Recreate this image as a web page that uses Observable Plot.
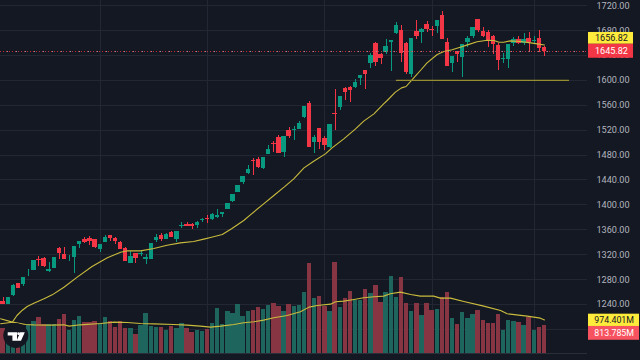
<!DOCTYPE html>
<html>
<head>
<meta charset="utf-8">
<script src="https://cdn.jsdelivr.net/npm/d3@7"></script>
<script src="https://cdn.jsdelivr.net/npm/@observablehq/plot@0.6"></script>
<style>html,body{margin:0;padding:0;background:#141823;overflow:hidden}svg{display:block}</style>
</head>
<body>
<div id="chart"></div>
<script>
const highs = [1251.2,1251.2,1271.6,1274.3,1283.4,1295.7,1310.7,1317.1,1315,1306.9,1315.5,1331,1331,1319.2,1333.2,1341.2,1347.1,1348.7,1344.4,1336.4,1351.4,1351.4,1347.1,1341.2,1331,1324.6,1321.9,1326.7,1320.8,1338,1352.4,1353.5,1353.5,1356.7,1357.3,1371.7,1371.7,1370.6,1373.9,1378.7,1383,1385.6,1392.6,1387.8,1402.2,1416.2,1431.2,1445.6,1463.3,1474,1475.6,1476.1,1494.9,1501.3,1512,1509.9,1523.8,1526,1534.5,1558,1566.1,1512,1522.7,1509.9,1529.2,1584.9,1574.1,1588.6,1590.2,1601,1607.9,1616.4,1643.7,1661.4,1642.7,1665.2,1664.1,1693,1688.7,1661.4,1667.3,1696.2,1683.4,1694.1,1686.6,1696.2,1710.1,1667.3,1637.9,1646.4,1657.1,1670.5,1685,1697.3,1684.4,1680.1,1672.1,1658.7,1643.7,1657.1,1668.9,1671,1675.3,1676.4,1670.5,1680.1,1654.4];
const lows = [1240.5,1240,1253.4,1266.2,1268.9,1285,1294.6,1301,1299.4,1291.9,1298.4,1312.8,1312.3,1309.1,1289.8,1330,1338,1335.3,1329.4,1323,1339.6,1341.7,1336.9,1327.8,1308.5,1305.8,1306.4,1316.6,1304.2,1312.8,1339.6,1341.2,1343.9,1347.1,1339.6,1362.1,1364.8,1361,1362.1,1372.2,1369.6,1374.9,1378.7,1379.7,1392.6,1403.8,1419.9,1432.8,1448.3,1447.2,1459,1456.3,1481,1484.2,1482.5,1476.7,1506.6,1503.4,1520.6,1538.3,1491.7,1482,1488.4,1487.4,1490.6,1519.5,1551.6,1567.7,1565,1586.5,1591.8,1585.4,1619.6,1622.3,1625.5,1641.6,1614.3,1673.2,1628.7,1608.9,1604.1,1665.2,1659.3,1676.4,1670.5,1675.9,1665.2,1622.9,1613.2,1628.7,1604.6,1653.4,1666.8,1677.5,1669.4,1653.4,1641.6,1616.4,1627.1,1619.1,1653.9,1658.2,1655.5,1645.9,1658.7,1645.3,1638.9];
const opens = [1244.8,1240,1254.4,1274.3,1272.1,1292.5,1294.6,1312.3,1313.9,1293,1298.4,1330,1320.3,1313.4,1315.5,1336.9,1343.9,1346,1343.9,1328.9,1340.1,1350.3,1346.5,1339,1330,1306.4,1321.4,1320.8,1311.7,1312.8,1342.8,1350.8,1344.4,1355.7,1343.9,1365.3,1368.5,1369,1367.4,1374.9,1378.7,1376.5,1379.7,1384.6,1392.6,1406,1419.9,1436,1449.9,1471.8,1472.9,1458.4,1481.5,1498.1,1508.3,1483.6,1519.5,1520,1521.1,1540.4,1562.9,1500.2,1522.2,1506.7,1491.7,1546.8,1556.5,1587.5,1589.1,1588.1,1603,1615.4,1627.1,1658.7,1641.6,1644.8,1660.9,1674.8,1680.1,1659.8,1610,1678,1676.9,1689.8,1681.8,1686,1704.3,1660.9,1627.1,1645.9,1637.3,1660.9,1670.5,1697.3,1678.5,1676.4,1670.5,1656,1634.1,1633.6,1659.8,1665.7,1658.7,1667.3,1663,1667.3,1652.8];
const closes = [1240.5,1251.2,1270.5,1266.2,1283.4,1293.5,1310.7,1310.7,1300.5,1296.7,1315.5,1321.9,1312.8,1314.4,1333.2,1340.7,1339.6,1340.7,1331,1336.4,1347.6,1345.5,1341.2,1328.9,1309.1,1317.1,1313.9,1321.9,1315.5,1338,1347.6,1344.9,1352.4,1348.2,1357.3,1366.4,1365.3,1365.8,1372.3,1376,1377,1385.1,1383,1387.8,1402.2,1416.2,1431.2,1445.6,1457.4,1470.2,1459.5,1476.1,1489,1496.5,1483.1,1509.9,1510.4,1521.1,1530.8,1558,1492.2,1508.8,1500.8,1494.9,1528.6,1545.2,1574.1,1580.6,1583.8,1596.6,1607.9,1610,1640,1628.7,1635.2,1653.9,1664.1,1687.6,1643.7,1612.7,1667.3,1670.5,1681.2,1681.8,1680.1,1696.2,1666.2,1622.9,1637.9,1641.6,1657.1,1667.3,1685,1680.1,1670.5,1664.1,1657.7,1632.5,1635.2,1657.1,1665.7,1658.7,1665.7,1660.9,1664.1,1651.8,1645.82];
const volumes = [716,619,600,667,764,832,928,1035,832,832,841,986,1122,658,957,1064,890,890,919,861,1035,938,764,919,716,725,551,822,1151,793,754,754,658,783,725,861,735,619,667,638,706,861,1305,832,1218,1160,1412,1073,1218,1247,1325,1276,1392,1441,1363,1218,1412,1363,1392,1770,2611,1596,1644,1363,1218,2650,1334,1596,1799,1547,1547,1847,1731,1973,1480,1770,2243,1625,2195,1441,1218,1451,1102,1441,1238,1276,1634,1760,1006,832,1189,1006,1131,1238,957,861,870,1122,677,948,928,899,812,1054,677,745,813.785];

const priceMaAt = [-0.5,1.8,2.7,3.7,4.7,6,8,9.6,11.9,14.5,17.4,20.4,23,24.3,26.9,29.5,32.1,34.7,37.3,39.3,40.6,42.9,44.8,47.1,48.4,51,53,55,56.9,58.9,60.8,63.1,64.4,66.7,69,70.6,72.6,74.5,75.2,76.8,78,78.9,80.4,81.7,83,85,86.3,87.9,89.5,90.9,92.8,94.8,96.1,97.1,98,99.3,101.3,103.3,104.6,106];
const priceMa = [1209,1211.6,1222.3,1230.4,1236.8,1242.1,1249.1,1255.5,1267.8,1283.9,1301,1315,1324,1326.2,1326.2,1330,1335.3,1339,1341.2,1345,1347.6,1352.4,1362.1,1374.9,1384,1401.7,1415.1,1428.5,1441.9,1459.5,1470.2,1482,1491.7,1506.1,1522.2,1534.5,1546.3,1562.3,1567.7,1581.1,1588,1590.2,1604.1,1615.9,1628.2,1641.6,1646.4,1649.1,1653.4,1657.1,1662,1664.6,1664.1,1661.4,1661.4,1663.5,1662.5,1660.3,1658.7,1656.82];
const volumeMaAt = [-0.5,1.8,4.4,6,9.3,11.9,12.9,15.1,19.1,21.7,24.3,26.9,29.5,33.4,36,38.6,40.6,42.6,45.2,47.1,49.1,51,53,55.6,58.2,59.9,61.5,64.1,65.1,66.7,68.7,70.6,72.6,74.5,75.8,77.8,79.8,81.7,84.3,85.6,87.6,90.2,94.1,97.4,98.7,102.6,105.2,106];
const volumeMa = [1005,909,841,831,822,831,793,831,870,909,899,870,860,841,822,793,764,793,841,889,918,967,1034,1102,1208,1344,1392,1431,1498,1518,1566,1614,1643,1663,1730,1779,1711,1663,1663,1605,1605,1508,1373,1247,1150,1083,1025,974.401];

const gridPrices = [1200,1240,1280,1320,1360,1400,1440,1480,1520,1560,1600,1640,1680,1720];
const labelledPrices = [1240,1280,1320,1360,1400,1440,1480,1520,1560,1600,1640,1680,1720];
const timeGrid = [19,40,63,84,104];
const levelPrice = 1600, levelFrom = 77, levelTo = 110.9;
const lastPrice = 1645.82, lastMa = 1656.82;
const lastVolumeLabel = "813.785M", lastVolumeMaLabel = "974.401M";

const BG = "#141823", GRID = "#232733", UP = "#089981", DOWN = "#f23645";
const UPV = "#1e665d", DOWNV = "#873542", MA = "#c9bb3c";
const FONT = "Roboto, sans-serif";

// the volume pane shares the price y scale: volume is rescaled into the bottom band of it
const volToY = d3.scaleLinear([0,1000],[1161.3,1216.7]);

const candles = closes.map((c,i)=>({i,o:opens[i],h:highs[i],l:lows[i],c,v:volumes[i],up:c>=opens[i]}));
const priceMaRows = priceMa.map((p,k)=>({i:priceMaAt[k],p}));
const volMaRows = volumeMa.map((v,k)=>({i:volumeMaAt[k],v}));

const overlay = (index,{y},values,dims)=>{
  const g = d3.create("svg:g").attr("font-family",FONT);
  const box = (x,w,top,bottom,fill,textFill,label,tx,fs)=>{
    g.append("rect").attr("x",x).attr("width",w).attr("y",top).attr("height",bottom-top).attr("fill",fill);
    g.append("text").attr("x",tx).attr("y",(top+bottom)/2).attr("dy","0.36em").attr("text-anchor","end")
     .attr("font-size",fs).attr("fill",textFill).text(label);
  };
  const yp = y(lastPrice);
  box(588,45,yp-19.4,yp-7.6,"#ffeb3b","#131722",lastMa.toFixed(2),628,9.1);
  box(588,45,yp-7.6,yp+6.4,DOWN,"#ffffff",lastPrice.toFixed(2),628,9.1);
  const yv = y(volToY(974.401));
  box(588,51,yv-5.7,yv+6.6,"#ffeb3b","#131722",lastVolumeMaLabel,634,8.8);
  box(588,51,yv+6.6,yv+20.4,"#f7525f","#ffffff",lastVolumeLabel,634,8.8);
  const logo = g.append("g");
  logo.append("circle").attr("cx",15.8).attr("cy",335.5).attr("r",12.5).attr("fill","#131722");
  logo.append("path").attr("fill","#ffffff").attr("d","M7.7 332.3H17V340.7H12.4V335.4H7.7Z M20.2 332.3H24.8L21 340.7H16.6Z");
  logo.append("circle").attr("cx",18.6).attr("cy",333.7).attr("r",1.4).attr("fill","#ffffff");
  return g.node();
};

const chart = Plot.plot({
  width:640,height:360,
  marginTop:0,marginBottom:0,marginLeft:0,marginRight:53,
  style:{background:BG,fontFamily:FONT},
  x:{type:"linear",domain:[-0.523,114.42],range:[0,587],axis:null},
  y:{type:"linear",domain:[1150.03,1728.35],range:[360,0],axis:null},
  marks:[
    Plot.ruleY(gridPrices,{stroke:GRID,strokeWidth:1,shapeRendering:"crispEdges"}),
    Plot.ruleX(timeGrid,{stroke:GRID,strokeWidth:1,y1:1161.3,y2:1728.35,shapeRendering:"crispEdges"}),
    Plot.ruleY([1161.3],{stroke:"#2a2e39",strokeWidth:1,shapeRendering:"crispEdges"}),
    Plot.rect(candles,{x1:d=>d.i-0.43,x2:d=>d.i+0.43,y1:()=>volToY(0),y2:d=>volToY(d.v),fill:d=>d.up?UPV:DOWNV,shapeRendering:"crispEdges"}),
    Plot.line(volMaRows,{x:"i",y:d=>volToY(d.v),stroke:MA,strokeWidth:1.1}),
    Plot.ruleX(candles,{x:"i",y1:"l",y2:"h",stroke:d=>d.up?UP:DOWN,strokeWidth:1,shapeRendering:"crispEdges"}),
    Plot.rect(candles,{x1:d=>d.i-0.43,x2:d=>d.i+0.43,y1:"o",y2:"c",fill:d=>d.up?UP:DOWN,shapeRendering:"crispEdges"}),
    Plot.line(priceMaRows,{x:"i",y:"p",stroke:MA,strokeWidth:1.1}),
    Plot.ruleY([levelPrice],{x1:levelFrom,x2:levelTo,stroke:"#968c32",strokeWidth:1.4}),
    Plot.ruleY([lastPrice],{stroke:DOWN,strokeWidth:1,strokeDasharray:"1,2",strokeOpacity:0.75,shapeRendering:"crispEdges"}),
    Plot.ruleY([lastPrice],{stroke:"#8f929c",strokeWidth:1,strokeDasharray:"1,8",strokeDashoffset:2,shapeRendering:"crispEdges"}),
    Plot.axisY(labelledPrices,{anchor:"right",tickSize:0,tickPadding:9,tickFormat:d=>d.toFixed(2),label:null,fontSize:9.1,fill:"#b2b5be",stroke:null,textStroke:"none"}),
    overlay
  ]
});
document.getElementById("chart").appendChild(chart);
</script>
</body>
</html>
